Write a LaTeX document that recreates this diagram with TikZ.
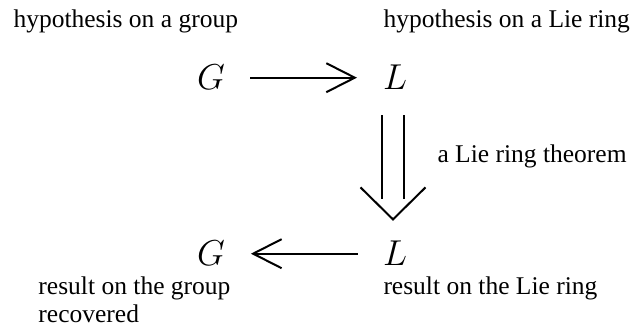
\documentclass[tikz,border=0pt]{standalone}
\usepackage{amsmath,amssymb}
\usepackage{fontspec}
\setmainfont{Liberation Serif}
\usetikzlibrary{arrows.meta}

\begin{document}
\begin{tikzpicture}[x=0.4pt,y=-0.4pt,
  lbl/.style={anchor=base west,inner sep=0pt,align=left,font=\fontsize{10.2}{11.2}\selectfont},
  obj/.style={anchor=base,inner sep=0pt,font=\fontsize{14.4}{17}\selectfont},
  map/.style={line width=0.8pt,-{Straight Barb[length=11.4pt,width=11.6pt]},shorten <=10pt,shorten >=10.2pt},
  imp/.style={line width=0.8pt}]
\useasboundingbox (0,0) rectangle (640,331);
\node[lbl] (hypG) at (13,28) {hypothesis on a group};
\node[lbl] (hypL) at (383,28) {hypothesis on a Lie ring};
\node[obj] (Gtop) at (211,90) {$G$};
\node[obj] (Ltop) at (395,90) {$L$};
\node[obj] (Gbot) at (211,266) {$G$};
\node[obj] (Lbot) at (395,266) {$L$};
\node[lbl] (thm) at (437,163) {a Lie ring theorem};
\node[lbl] (resG) at (38,323) {result on the group\\recovered};
\node[lbl] (resL) at (383,295) {result on the Lie ring};
\draw[map] (Gtop) -- (Ltop);
\draw[map] (Lbot) -- (Gbot);
\draw[imp] ([xshift=-5.2pt,yshift=-10pt]Ltop.south) -- ([xshift=-5.2pt,yshift=16.6pt]Lbot.north);
\draw[imp] ([xshift=3.6pt,yshift=-10pt]Ltop.south) -- ([xshift=3.6pt,yshift=16.6pt]Lbot.north);
\coordinate (dtip) at ([xshift=-0.8pt,yshift=8.6pt]Lbot.north);
\draw[imp] ([shift={(-13pt,12.8pt)}]dtip) -- (dtip) -- ([shift={(13pt,12.8pt)}]dtip);
\end{tikzpicture}
\end{document}
